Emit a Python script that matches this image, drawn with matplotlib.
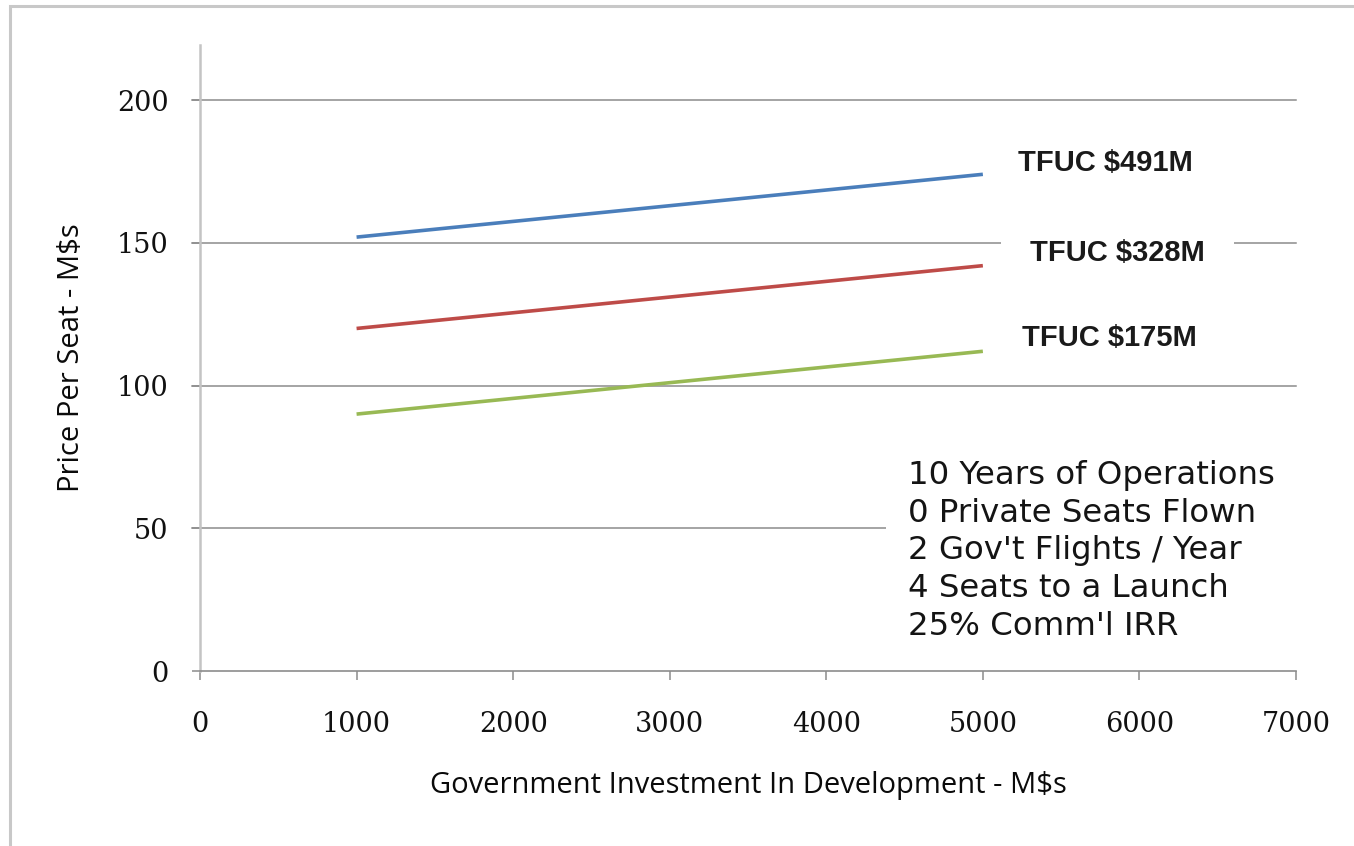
import matplotlib
matplotlib.use("Agg")
import matplotlib.pyplot as plt
from matplotlib.patches import Rectangle

# price per seat (M$) against government development investment (M$)
invest = [1000, 5000]
price_491 = [152, 174]
price_328 = [120, 142]
price_175 = [90, 112]

series_labels = ["TFUC $491M", "TFUC $328M", "TFUC $175M"]
series_colors = ["#4a7ebb", "#be4b48", "#98b954"]

x_ticks = [0, 1000, 2000, 3000, 4000, 5000, 6000, 7000]
y_ticks = [0, 50, 100, 150, 200]

notes = ["10 Years of Operations",
         "0 Private Seats Flown",
         "2 Gov't Flights / Year",
         "4 Seats to a Launch",
         "25% Comm'l IRR"]

W, H = 1354, 846
fig = plt.figure(figsize=(W / 100, H / 100), dpi=100)
fig.patch.set_facecolor("white")

# outer chart frame (only left and top edges fall inside the image)
fig.patches.append(Rectangle((10 / W, -0.1), 1.2, 1.1 - 6 / H,
                             transform=fig.transFigure, fill=False,
                             ec="#c8c8c8", lw=2.2, zorder=0))

ax = fig.add_axes([200 / W, (H - 671) / H, 1096 / W, 626 / H])
ax.set_xlim(0, 7000)
ax.set_ylim(0, 219.3)

grid_c = "#8c8c8c"
for y in y_ticks[1:]:
    ax.axhline(y, color=grid_c, lw=1.1, zorder=1, xmin=-8 / 1096, clip_on=False)

for ys, c in zip([price_491, price_328, price_175], series_colors):
    ax.plot(invest, ys, color=c, lw=2.6, solid_capstyle="butt", zorder=3)

for s in ["top", "right"]:
    ax.spines[s].set_visible(False)
ax.spines["left"].set_color("#c4c4c4")
ax.spines["left"].set_linewidth(1.8)
ax.spines["bottom"].set_color(grid_c)
ax.spines["bottom"].set_linewidth(1.2)

ax.set_xticks(x_ticks)
ax.set_yticks(y_ticks)
tick_font = dict(family="DejaVu Serif", size=19.5, color="#111111")
ax.set_xticklabels([str(v) for v in x_ticks], **tick_font)
ax.set_yticklabels([str(v) for v in y_ticks], **tick_font)
ax.tick_params(axis="x", length=6.5, width=1.1, color=grid_c, pad=22)
ax.tick_params(axis="y", length=5.8, width=1.1, color=grid_c, pad=17)

label_font = dict(family="Open Sans", size=21, color="#0a0a0a")
ax.set_xlabel("Government Investment In Development - M$s", **label_font)
ax.xaxis.set_label_coords(0.5, (671 - 785) / 626)
ax.xaxis.label.set_va("center")
ax.set_ylabel("Price Per Seat - M$s", **label_font)
ax.yaxis.set_label_coords((72 - 200) / 1096, 0.5)
ax.yaxis.label.set_va("center")

# series labels
lab_pos = [(5225, 178), (5301, 146.4), (5250, 116.6)]
for (lx, ly), txt in zip(lab_pos, series_labels):
    bb = dict(fc="white", ec="none", pad=21) if "328" in txt else None
    ax.text(lx, ly, txt, family="Liberation Sans", weight="bold", size=21,
            color="#1a1a1a", ha="left", va="center", bbox=bb, zorder=4)

# assumptions box
ax.text((908 - 200) / 1096, (671 - 551) / 626, "\n".join(notes),
        transform=ax.transAxes, family="DejaVu Sans", size=23.3,
        color="#141414", ha="left", va="center", linespacing=1.28,
        bbox=dict(fc="white", ec="none", pad=16), zorder=4)

fig.savefig("out.png", dpi=100)
